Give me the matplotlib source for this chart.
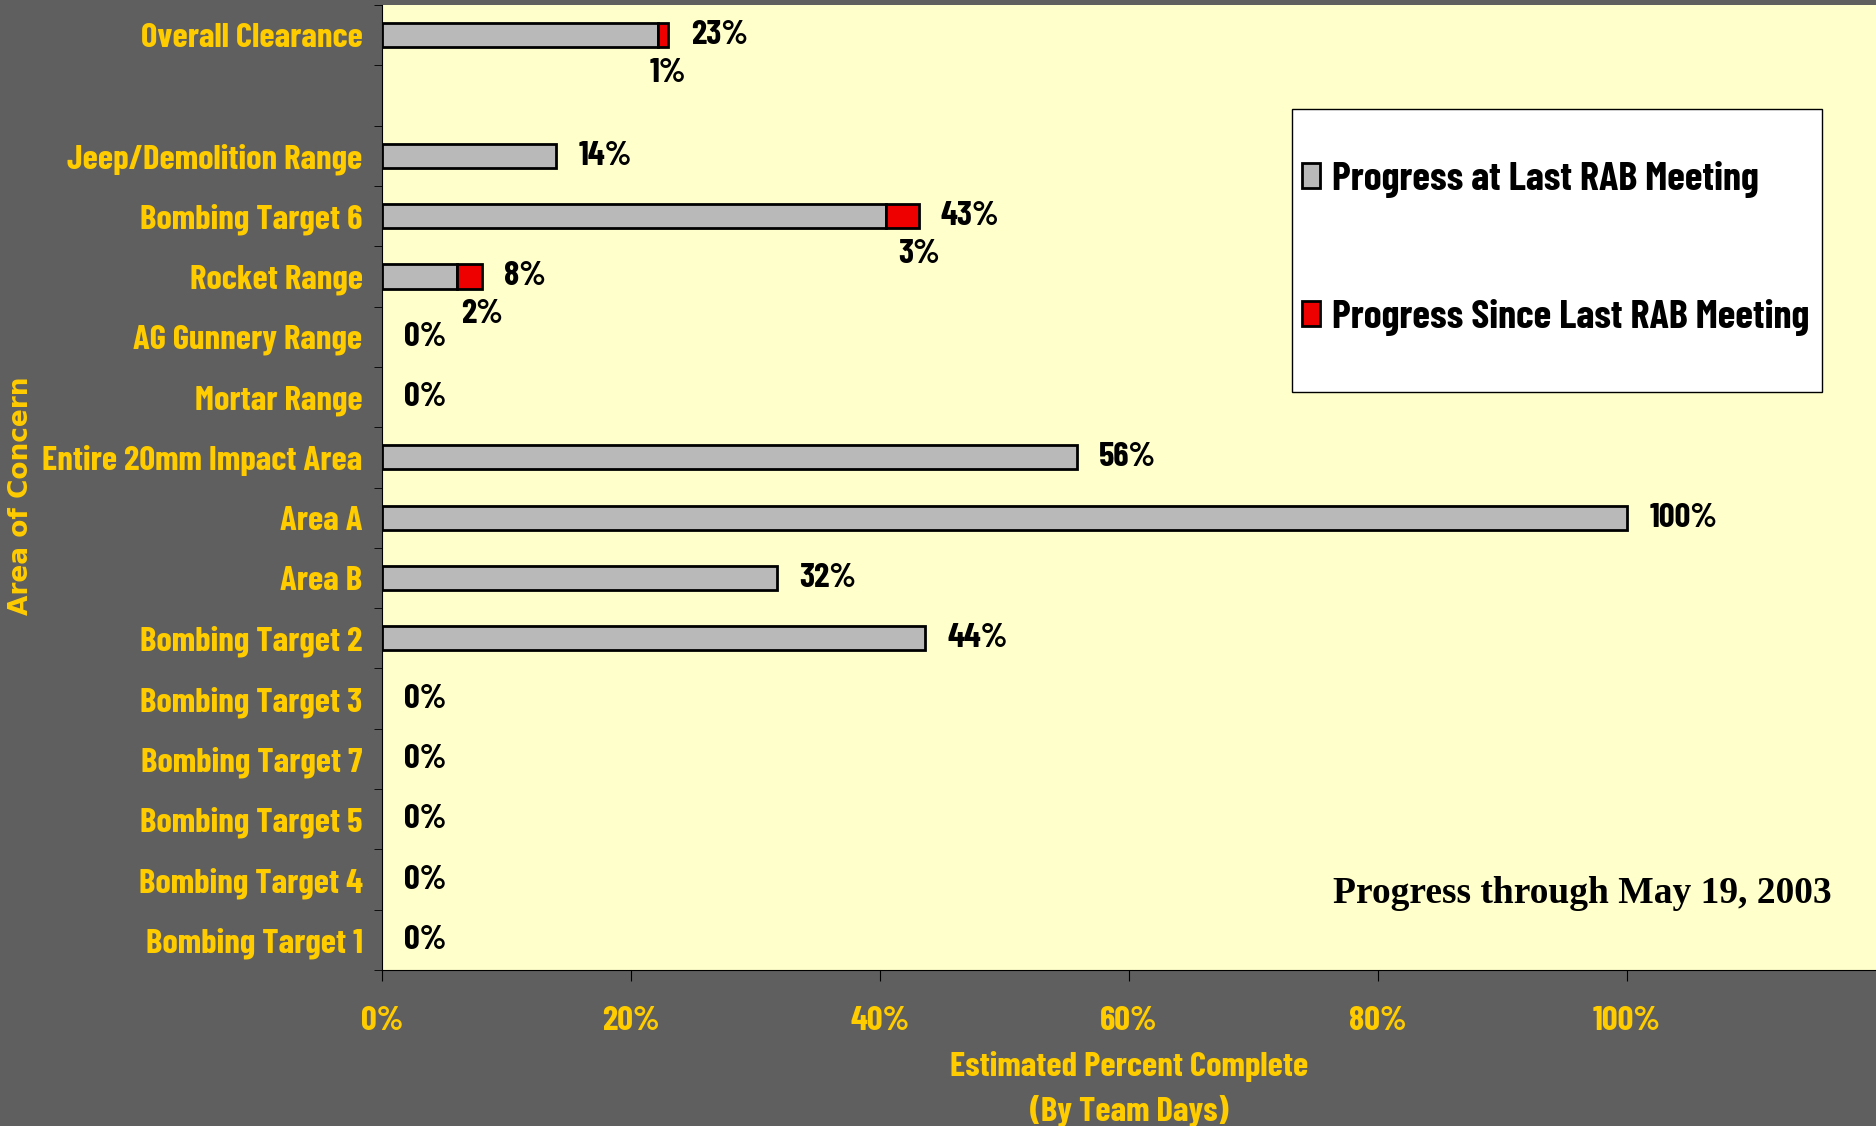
import matplotlib
matplotlib.use('Agg')
import matplotlib.pyplot as plt
from matplotlib.patches import Rectangle
import numpy as np

areas = ['Overall Clearance', '', 'Jeep/Demolition Range', 'Bombing Target 6',
         'Rocket Range', 'AG Gunnery Range', 'Mortar Range',
         'Entire 20mm Impact Area', 'Area A', 'Area B', 'Bombing Target 2',
         'Bombing Target 3', 'Bombing Target 7', 'Bombing Target 5',
         'Bombing Target 4', 'Bombing Target 1']
last_meeting = [22.2, np.nan, 14, 40.5, 6.0, 0, 0, 55.8, 100, 31.7, 43.6, 0, 0, 0, 0, 0]
since_meeting = [0.8, np.nan, 0, 2.6, 2.0, 0, 0, 0, 0, 0, 0, 0, 0, 0, 0, 0]
xticks = [0, 20, 40, 60, 80, 100]

narrow = ['Barlow Condensed', 'DejaVu Sans']
yellow = '#ffcc00'
bg = '#5f5f5f'

fig = plt.figure(figsize=(18.76, 11.26), dpi=100, facecolor=bg)
ax = fig.add_axes([0.2036, 0.1385, 0.7964, 0.857])
ax.set_facecolor('#ffffcc')

y = np.arange(len(areas))
last = np.nan_to_num(np.array(last_meeting, dtype=float))
since = np.nan_to_num(np.array(since_meeting, dtype=float))

# only draw non-empty segments so zero bars leave no edge marks
g = last > 0
r = since > 0
ax.barh(y[g], last[g], height=0.4, color='#b9b9b9', edgecolor='black', linewidth=2,
        label='Progress at Last RAB Meeting')
ax.barh(y[r], since[r], left=last[r], height=0.4, color='#ee0000', edgecolor='black',
        linewidth=2, label='Progress Since Last RAB Meeting')

for i, name in enumerate(areas):
    if name == '':
        continue
    total = last[i] + since[i]
    ax.text(total + 1.8, i, '%d%%' % round(total), ha='left', va='center',
            family=narrow, fontweight='bold', fontsize=25, color='black')
    if since[i] > 0:
        ax.text(total, i + 0.62, '%d%%' % round(since[i]), ha='center', va='center',
                family=narrow, fontweight='bold', fontsize=25, color='black')

ax.set_xlim(0, 120)
ax.set_ylim(len(areas) - 0.5, -0.5)
ax.set_xticks(xticks)
ax.set_xticklabels(['%d%%' % t for t in xticks], family=narrow, fontweight='bold',
                   fontsize=25, color=yellow)
ax.tick_params(axis='x', direction='out', length=8, color='black', pad=18)
ax.set_yticks(y)
ax.set_yticklabels(areas, family=narrow, fontweight='bold', fontsize=25, color=yellow)
ax.tick_params(axis='y', length=0, pad=14)
ax.set_yticks(np.arange(len(areas) + 1) - 0.5, minor=True)
ax.tick_params(axis='y', which='minor', length=6, color='black', direction='out')

for s in ['top', 'right']:
    ax.spines[s].set_visible(False)
ax.spines['left'].set_color('black')
ax.spines['bottom'].set_color('black')

ax.set_xlabel('Estimated Percent Complete\n(By Team Days)', family=narrow,
              fontweight='bold', fontsize=25, color=yellow, labelpad=11,
              linespacing=1.45)
fig.text(0.011, 0.56, 'Area of Concern', rotation=90, ha='center', va='center',
         fontsize=19, fontweight='bold', color=yellow, family='DejaVu Sans')

# legend box
ax.add_patch(Rectangle((0.609, 0.599), 0.355, 0.293, transform=ax.transAxes,
                       facecolor='white', edgecolor='black', linewidth=1, zorder=4))
leg = ax.legend(loc='center left', bbox_to_anchor=(0.6157, 0.748), frameon=False,
                prop={'family': narrow, 'weight': 'bold', 'size': 29},
                handlelength=0.45, handleheight=0.6, handletextpad=0.3,
                labelspacing=2.5, borderpad=0, borderaxespad=0)
leg.set_zorder(5)

ax.text(0.9705, 0.079, 'Progress through May 19, 2003', transform=ax.transAxes,
        ha='right', va='center', family='Liberation Serif', fontweight='bold',
        fontsize=27, color='black')

fig.savefig('out.png', dpi=100, facecolor=bg)
